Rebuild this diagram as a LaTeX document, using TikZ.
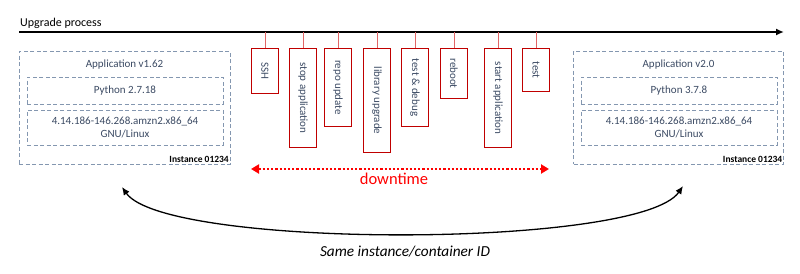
\documentclass[tikz,border=0pt]{standalone}
\usepackage{fontspec}
\setmainfont{Carlito}
\usetikzlibrary{arrows.meta}

\definecolor{slate}{HTML}{3B4A63}
\definecolor{dashblue}{HTML}{8497B0}
\definecolor{boxred}{HTML}{C00000}
\definecolor{stemred}{HTML}{E06666}

\begin{document}
\begin{tikzpicture}[x=1pt,y=-1pt,>=Latex,
  layer/.style={draw=dashblue,dash pattern=on 4pt off 2.5pt,line width=0.9pt,inner sep=0pt},
  label/.style={text=slate,font=\fontsize{11}{13.5}\selectfont,align=center},
  stepbox/.style={draw=boxred,line width=1pt,rotate=-90,anchor=west,minimum height=27pt,inner sep=0pt,text=slate,font=\fontsize{11}{12.5}\selectfont},
  stem/.style={draw=stemred,line width=1pt}]
\useasboundingbox (0,0) rectangle (800,273);
% timeline
\coordinate (tlstart) at (19,32);
\coordinate (tlend) at (784,32);
\draw[line width=2pt,-{Latex[length=8pt,width=7pt]}] (tlstart)--(tlend);
\node[anchor=base west,inner sep=1pt,font=\fontsize{12}{14}\selectfont] (title) at (19,26) {Upgrade process};
% old instance
\node[layer,minimum width=211pt,minimum height=113pt] (oldinst) at (124.5,107.5) {};
\node[label] (oldapp) at (124.5,65) {Application v1.62};
\node[layer,label,minimum width=196pt,minimum height=27pt] (oldpy) at (125,90.5) {Python 2.7.18};
\node[layer,label,minimum width=196pt,minimum height=35pt] (oldos) at (125,127.5) {4.14.186-146.268.amzn2.x86\_64\\GNU/Linux};
\node[anchor=south east,inner sep=1.5pt,font=\bfseries\fontsize{9.5}{11}\selectfont] (oldid) at (oldinst.south east) {Instance 01234};
% new instance
\node[layer,minimum width=210pt,minimum height=113pt] (newinst) at (678.5,107.5) {};
\node[label] (newapp) at (678.5,65) {Application v2.0};
\node[layer,label,minimum width=196pt,minimum height=27pt] (newpy) at (679,90.5) {Python 3.7.8};
\node[layer,label,minimum width=196pt,minimum height=35pt] (newos) at (679,127.5) {4.14.186-146.268.amzn2.x86\_64\\GNU/Linux};
\node[anchor=south east,inner sep=1.5pt,font=\bfseries\fontsize{9.5}{11}\selectfont] (newid) at (newinst.south east) {Instance 01234};
% steps
\node[stepbox,minimum width=45pt] (ssh) at (265,48) {SSH};
\node[stepbox,minimum width=99pt] (stopapp) at (303,48) {stop application};
\node[stepbox,minimum width=78pt] (repo) at (338,48) {repo update};
\node[stepbox,minimum width=104pt] (libup) at (377,48) {library upgrade};
\node[stepbox,minimum width=78pt] (debug) at (415,48) {test \& debug};
\node[stepbox,minimum width=50pt] (reboot) at (454,48) {reboot};
\node[stepbox,minimum width=99pt] (startapp) at (498,48) {start application};
\node[stepbox,minimum width=43pt] (test) at (536,48) {test};
\foreach \s in {ssh,stopapp,repo,libup,debug,reboot,startapp,test}
  \draw[stem] (\s.west |- tlstart)--(\s.west);
% downtime
\coordinate (dtl) at (251,169);
\coordinate (dtr) at (549,169);
\draw[red,line width=2.2pt,dash pattern=on 2.2pt off 2pt,{Triangle[length=8pt,width=9pt]}-{Triangle[length=8pt,width=9pt]}] (dtl)--(dtr);
\node[text=red,font=\fontsize{16.5}{18}\selectfont] (dtlabel) at (394,179) {downtime};
% same instance
\coordinate (arcl) at (122,187);
\coordinate (arcr) at (683,186);
\draw[line width=1.3pt,{Latex[length=8pt,width=7pt]}-{Latex[length=8pt,width=7pt]}] (arcl) .. controls (165,249) and (640,249) .. (arcr);
\node[font=\itshape\fontsize{15.3}{17}\selectfont] (samelabel) at (405,252) {Same instance/container ID};
\end{tikzpicture}
\end{document}
